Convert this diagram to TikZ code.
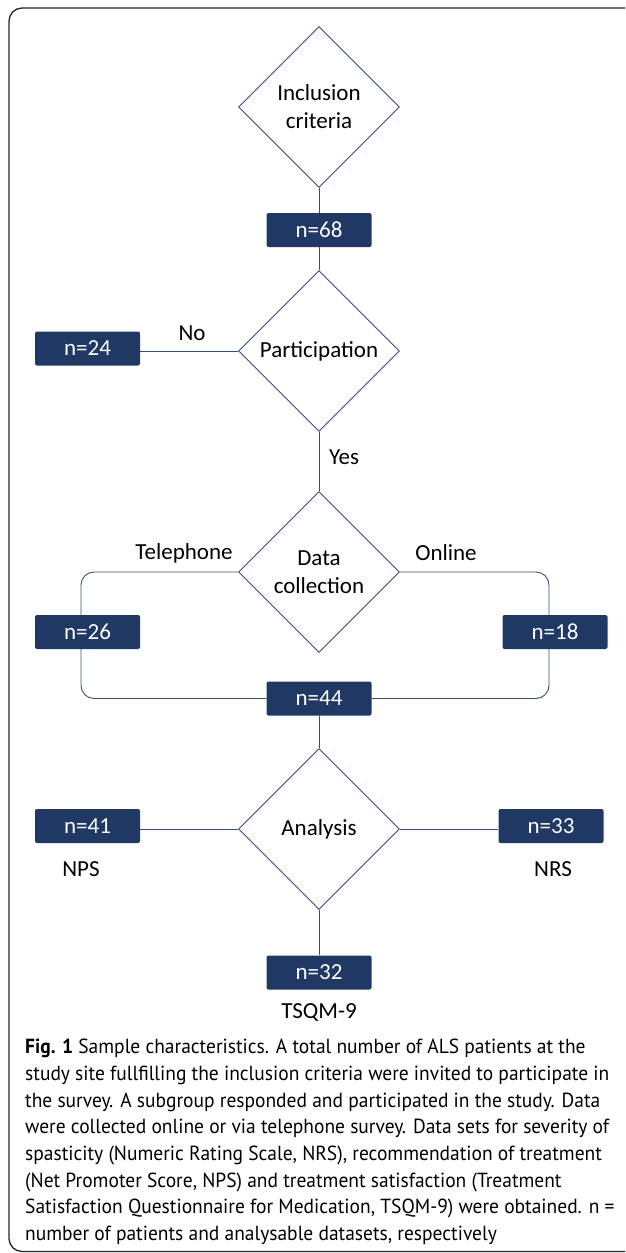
\documentclass[tikz,border=0pt]{standalone}
\usepackage{fontspec}
\setmainfont{Carlito}
\newfontfamily\capfont[FakeStretch=0.955]{PT Sans}
\usetikzlibrary{shapes.geometric}
\definecolor{boxblue}{RGB}{31,56,100}
\definecolor{lineblue}{RGB}{52,78,122}

\begin{document}
\begin{tikzpicture}[x=1pt,y=-1pt,
    nbox/.style={fill=boxblue,text=white,rounded corners=2pt,minimum width=105pt,minimum height=34pt,inner sep=0pt,font=\fontsize{23}{28}\selectfont},
    decide/.style={diamond,draw=lineblue,line width=0.9pt,minimum width=161pt,minimum height=161pt,inner sep=0pt,align=center,font=\fontsize{23}{28}\selectfont},
    lbl/.style={font=\fontsize{23}{28}\selectfont},
    link/.style={draw=lineblue,line width=0.9pt}]

    \def\page{(0,0) rectangle (625,1253)}
    \useasboundingbox \page;

    %frame:
    \begin{scope}
        \clip \page;
        \draw[rounded corners=13pt,line width=1.3pt,black!85] (9,8) rectangle (660,1251.5);
    \end{scope}

    %decisions:
    \node[decide] (incl) at (319,107) {Inclusion\\criteria};
    \node[decide] (part) at (319,351) {Participation};
    \node[decide] (datac) at (319,572) {Data\\collection};
    \node[decide] (anal) at (319,829) {Analysis};

    %boxes:
    \node[nbox] (n68) at (319,230) {n=68};
    \node[nbox] (n24) at (87.5,348.5) {n=24};
    \node[nbox] (n26) at (87.5,632) {n=26};
    \node[nbox] (n18) at (555,632) {n=18};
    \node[nbox] (n44) at (319,698.5) {n=44};
    \node[nbox] (n41) at (87.5,826) {n=41};
    \node[nbox] (n33) at (551,826) {n=33};
    \node[nbox] (n32) at (319,972.5) {n=32};

    %connectors:
    \draw[link] (incl.south) -- (n68.north);
    \draw[link] (n68.south) -- (part.north);
    \draw[link] (part.west) -- (part.west -| n24.east);
    \draw[link] (part.south) -- (datac.north);
    \draw[link,rounded corners=13pt] (datac.west) -| ([xshift=-6.5pt]n26.north);
    \draw[link,rounded corners=13pt] ([xshift=-6.5pt]n26.south) |- (n44.west);
    \draw[link,rounded corners=13pt] (datac.east) -| ([xshift=-6pt]n18.north);
    \draw[link,rounded corners=13pt] ([xshift=-6pt]n18.south) |- (n44.east);
    \draw[link] (n44.south) -- (anal.north);
    \draw[link] (anal.west) -- (anal.west -| n41.east);
    \draw[link] (anal.east) -- (anal.east -| n33.west);
    \draw[link] (anal.south) -- (n32.north);

    %labels:
    \node[lbl] (no) at (192,333) {No};
    \node[lbl] (yes) at (344,457) {Yes};
    \node[lbl] (tel) at (184,553) {Telephone};
    \node[lbl] (onl) at (446,553) {Online};
    \node[lbl] (nps) at (81,869) {NPS};
    \node[lbl] (nrs) at (553,869) {NRS};
    \node[lbl] (tsqm) at (319,1013) {TSQM-9};

    %caption:
    \node[anchor=north west,align=left,inner sep=0pt,font=\capfont\fontsize{20.4}{26.7}\selectfont] (cap) at (25,1039) {%
        \textbf{Fig. 1} Sample characteristics. A total number of ALS patients at the\\
        study site fullfilling the inclusion criteria were invited to participate in\\
        the survey. A subgroup responded and participated in the study. Data\\
        were collected online or via telephone survey. Data sets for severity of\\
        spasticity (Numeric Rating Scale, NRS), recommendation of treatment\\
        (Net Promoter Score, NPS) and treatment satisfaction (Treatment\\
        Satisfaction Questionnaire for Medication, TSQM-9) were obtained. n =\\
        number of patients and analysable datasets, respectively};

\end{tikzpicture}
\end{document}
